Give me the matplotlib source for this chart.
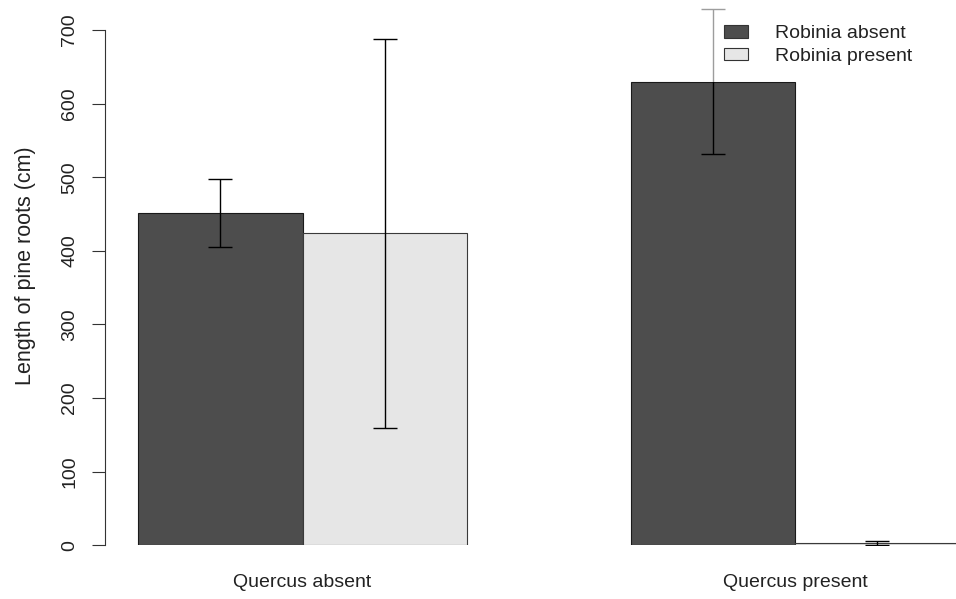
import numpy as np
import matplotlib
matplotlib.use('Agg')
import matplotlib.pyplot as plt
from matplotlib.patches import Patch, Rectangle

# Values (length of pine roots, cm)
groups = ['Quercus absent', 'Quercus present']
series = ['Robinia absent', 'Robinia present']
absent_mean = [451, 630]
absent_err = [46, 98]
present_mean = [424, 3]
present_err = [264, 3]

colors = ['#4d4d4d', '#e6e6e6']

plt.rcParams['font.family'] = ['Liberation Sans', 'DejaVu Sans']


def plot_bars():
    fig = plt.figure(figsize=(9.56, 5.99), dpi=100)
    W, H = 956, 599
    # axes placed in pixels so the layout matches R's barplot
    left, bottom, top, right = 105, 545.3, 0, 956
    ax = fig.add_axes([left / W, (H - bottom) / H, (right - left) / W, (bottom - top) / H])

    unit = 164.2   # px per bar width
    x0 = 138.3     # px of x = 0
    ppv = 515.3 / 700  # px per cm
    ax.set_xlim((left - x0) / unit, (right - x0) / unit)
    ax.set_ylim(0, (bottom - top) / ppv)

    start = np.arange(len(groups)) * 3
    pos_absent = start + 0.5
    pos_present = start + 1.5

    err_kw = dict(ecolor='black', elinewidth=1, capsize=8.6, capthick=1, zorder=3)
    ax.bar(pos_absent, absent_mean, width=1, color=colors[0], edgecolor='#1a1a1a',
           linewidth=0.8, yerr=absent_err, error_kw=err_kw, zorder=2)
    ax.bar(pos_present, present_mean, width=1, color=colors[1], edgecolor='#3a3a3a',
           linewidth=0.8, yerr=present_err, error_kw=err_kw, zorder=2)

    for s in ['top', 'right', 'bottom']:
        ax.spines[s].set_visible(False)
    ax.spines['left'].set_bounds(0, 700)
    ax.spines['left'].set_color('#333333')
    ax.spines['left'].set_linewidth(0.8)

    ax.set_yticks(np.arange(0, 701, 100))
    ax.tick_params(axis='y', length=9.4, width=0.8, color='#333333', pad=10,
                   labelsize=14, labelrotation=90, labelcolor='#222222')
    for lab in ax.get_yticklabels():
        lab.set_verticalalignment('center')

    ax.set_xticks(start + 1)
    ax.set_xticklabels(groups)
    ax.tick_params(axis='x', length=0, pad=21, labelsize=14, labelcolor='#222222')

    fig.text(26 / W, 1 - 266 / H, 'Length of pine roots (cm)', rotation=90,
             ha='center', va='center', fontsize=15.5, color='#222222')

    # half-transparent white legend background, it greys the error bar under it
    bg = Rectangle((690 / W, 1 - 82 / H), (W - 690) / W, 82 / H,
                   transform=fig.transFigure, facecolor='white',
                   alpha=0.62, edgecolor='none', zorder=5, clip_on=False)
    ax.add_artist(bg)

    handles = [Patch(facecolor=c, edgecolor='#333333', linewidth=0.8) for c in colors]
    leg = ax.legend(handles, series, loc='upper left',
                    bbox_to_anchor=(699 / W, 1.0), bbox_transform=fig.transFigure,
                    fontsize=14, handlelength=1.2, handleheight=0.6, handletextpad=1.4,
                    labelspacing=0.3, borderpad=0.8, frameon=False)
    leg.set_zorder(6)
    for t in leg.get_texts():
        t.set_color('#222222')

    fig.savefig('out.png', dpi=100)


if __name__ == "__main__":
    plot_bars()
